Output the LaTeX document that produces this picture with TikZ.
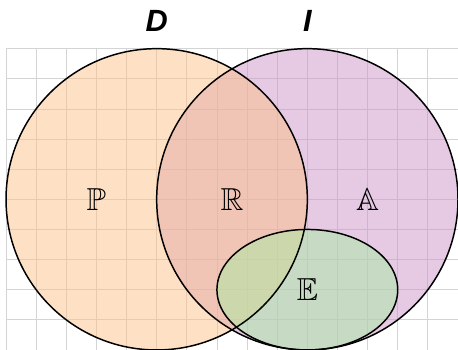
\documentclass[tikz,border=0pt]{standalone}
\usepackage{amssymb}
\usepackage{fontspec}
\newfontfamily\labfont{Liberation Sans}
\definecolor{dcol}{RGB}{253,193,137}
\definecolor{icol}{RGB}{205,149,201}
\definecolor{ecol}{RGB}{168,236,164}
\definecolor{gridcol}{RGB}{212,212,212}
\begin{document}
\begin{tikzpicture}[
  gridline/.style={draw=gridcol, line width=0.7pt},
  setfill/.style={fill opacity=0.5},
  outline/.style={draw=black, line width=1.4pt},
  setname/.style={font=\labfont\bfseries\itshape\fontsize{29}{29}\selectfont, inner sep=0pt},
  region/.style={font=\fontsize{30}{30}\selectfont, inner sep=0pt}
]
\useasboundingbox (-0.2,-5) rectangle (15,6.615);
\begin{scope}
  \clip (-0.2,-5) rectangle (15,6.615);
  \draw[gridline] (0,-5.5) grid (15.5,5);
\end{scope}
% fills
\fill[icol, setfill] (10,0) circle (5);
\fill[dcol, setfill] (5,0) circle (5);
\fill[ecol, setfill] (10,-3) ellipse (3 and 2);
% outlines
\draw[outline] (10,0) circle (5);
\draw[outline] (5,0) circle (5);
\draw[outline] (10,-3) ellipse (3 and 2);
% labels
\node[setname] (lD) at (5,5.93) {D};
\node[setname] (lI) at (10,5.93) {I};
\node[region] (rP) at (3,0) {$\mathbb{P}$};
\node[region] (rR) at (7.5,0) {$\mathbb{R}$};
\node[region] (rA) at (12,0) {$\mathbb{A}$};
\node[region] (rE) at (10,-3) {$\mathbb{E}$};
\end{tikzpicture}
\end{document}
